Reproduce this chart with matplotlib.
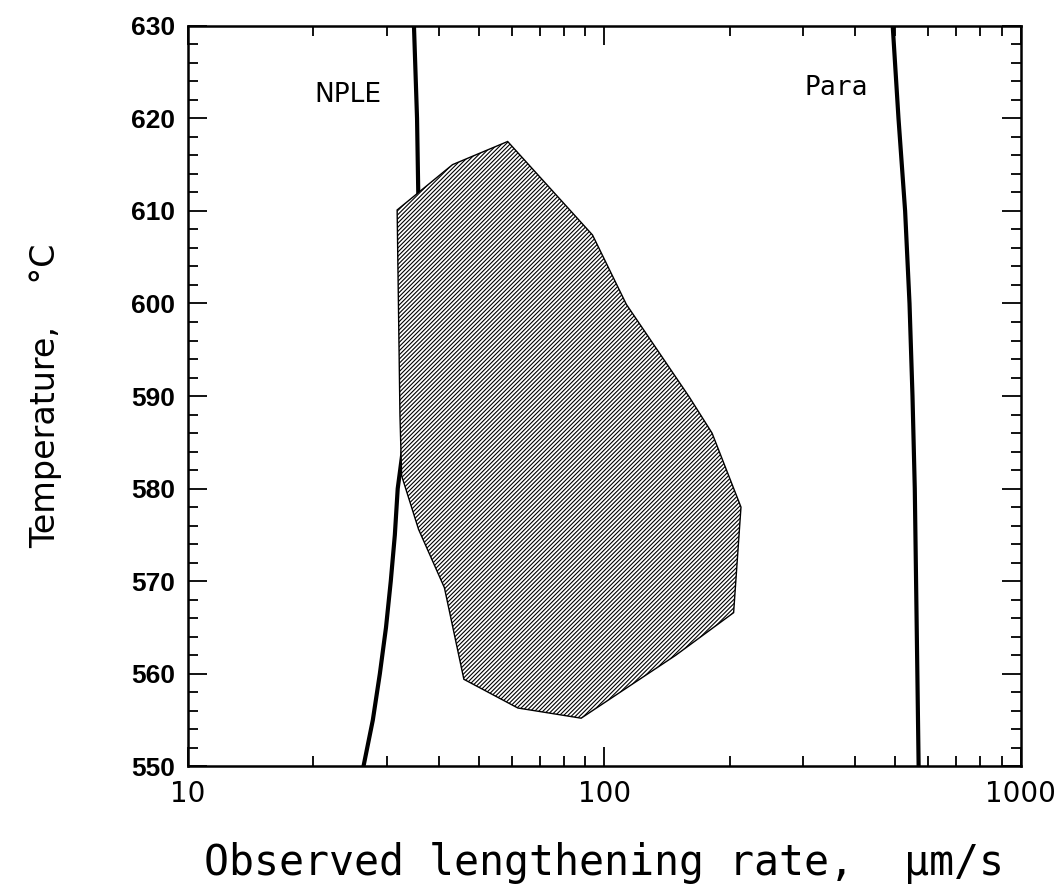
import numpy as np
import matplotlib
matplotlib.use("Agg")
from matplotlib import pyplot as plt
from matplotlib.ticker import LogLocator, NullFormatter, MultipleLocator, FixedLocator, FixedFormatter

# NPLE boundary (temperature, rate)
npl_T = [630, 620, 610, 600, 590, 585, 580, 575, 570, 565, 560, 555, 550]
npl_v = [34.9, 35.5, 35.8, 35.0, 33.3, 33.0, 31.9, 31.4, 30.7, 29.9, 28.9, 27.8, 26.4]

# Para boundary
para_T = [630, 620, 610, 600, 590, 580, 570, 560, 550]
para_v = [493, 509, 528, 541, 550, 557, 561, 565, 569]

# observed region outline
reg_v = [31.8, 43.2, 58.6, 93.7, 113.0, 160.0, 181.5, 213.0, 204.5,
         148.5, 88.0, 62.0, 46.0, 41.3, 35.8, 32.6, 32.3, 31.8]
reg_T = [610.1, 615.0, 617.5, 607.4, 599.9, 589.9, 586.0, 578.0, 566.6,
         562.0, 555.2, 556.3, 559.4, 569.3, 575.6, 581.4, 587.9, 610.1]

xticks = [10, 100, 1000]
xticklabels = ["10", "100", "1000"]

plt.rcParams["hatch.linewidth"] = 0.8

fig = plt.figure(figsize=(10.62, 8.89), dpi=100)
ax = fig.add_axes([0.177, 0.138, 0.784, 0.833])

ax.fill(reg_v, reg_T, facecolor="white", edgecolor="black", hatch="////////", linewidth=1.0, zorder=3)
ax.plot(npl_v, npl_T, color="black", lw=3.0, zorder=2)
ax.plot(para_v, para_T, color="black", lw=3.0, zorder=2)

ax.text(24.2, 622.5, "NPLE", fontsize=19, family=["DejaVu Sans"],
        ha="center", va="center")
ax.text(361, 623.3, "Para", fontsize=19, family=["DejaVu Sans Mono"],
        ha="center", va="center")

ax.set_xscale("log")
ax.set_xlim(10, 1000)
ax.set_ylim(550, 630)

ax.xaxis.set_major_locator(FixedLocator(xticks))
ax.xaxis.set_major_formatter(FixedFormatter(xticklabels))
ax.xaxis.set_minor_locator(LogLocator(base=10, subs=np.arange(2, 10)))
ax.xaxis.set_minor_formatter(NullFormatter())
ax.yaxis.set_major_locator(MultipleLocator(10))
ax.yaxis.set_minor_locator(MultipleLocator(2))

ax.tick_params(which="both", direction="in", top=True, right=True, width=1.3)
ax.tick_params(which="major", length=14)
ax.tick_params(which="minor", length=7)
ax.tick_params(axis="y", pad=9)
ax.tick_params(axis="x", pad=10)
for lab in ax.get_yticklabels():
    lab.set_fontsize(19)
    lab.set_fontweight("bold")
    lab.set_family(["Liberation Sans", "DejaVu Sans"])
for lab in ax.get_xticklabels():
    lab.set_fontsize(20)
    lab.set_family(["DejaVu Sans"])

for s in ax.spines.values():
    s.set_linewidth(1.8)

ax.set_xlabel("Observed lengthening rate,  \u03bcm/s", fontsize=30,
              family=["DejaVu Sans Mono"], labelpad=24)
ax.set_ylabel("Temperature,    \u00b0C", fontsize=24,
              family=["DejaVu Sans"], labelpad=50)

fig.savefig("out.png", dpi=100)
